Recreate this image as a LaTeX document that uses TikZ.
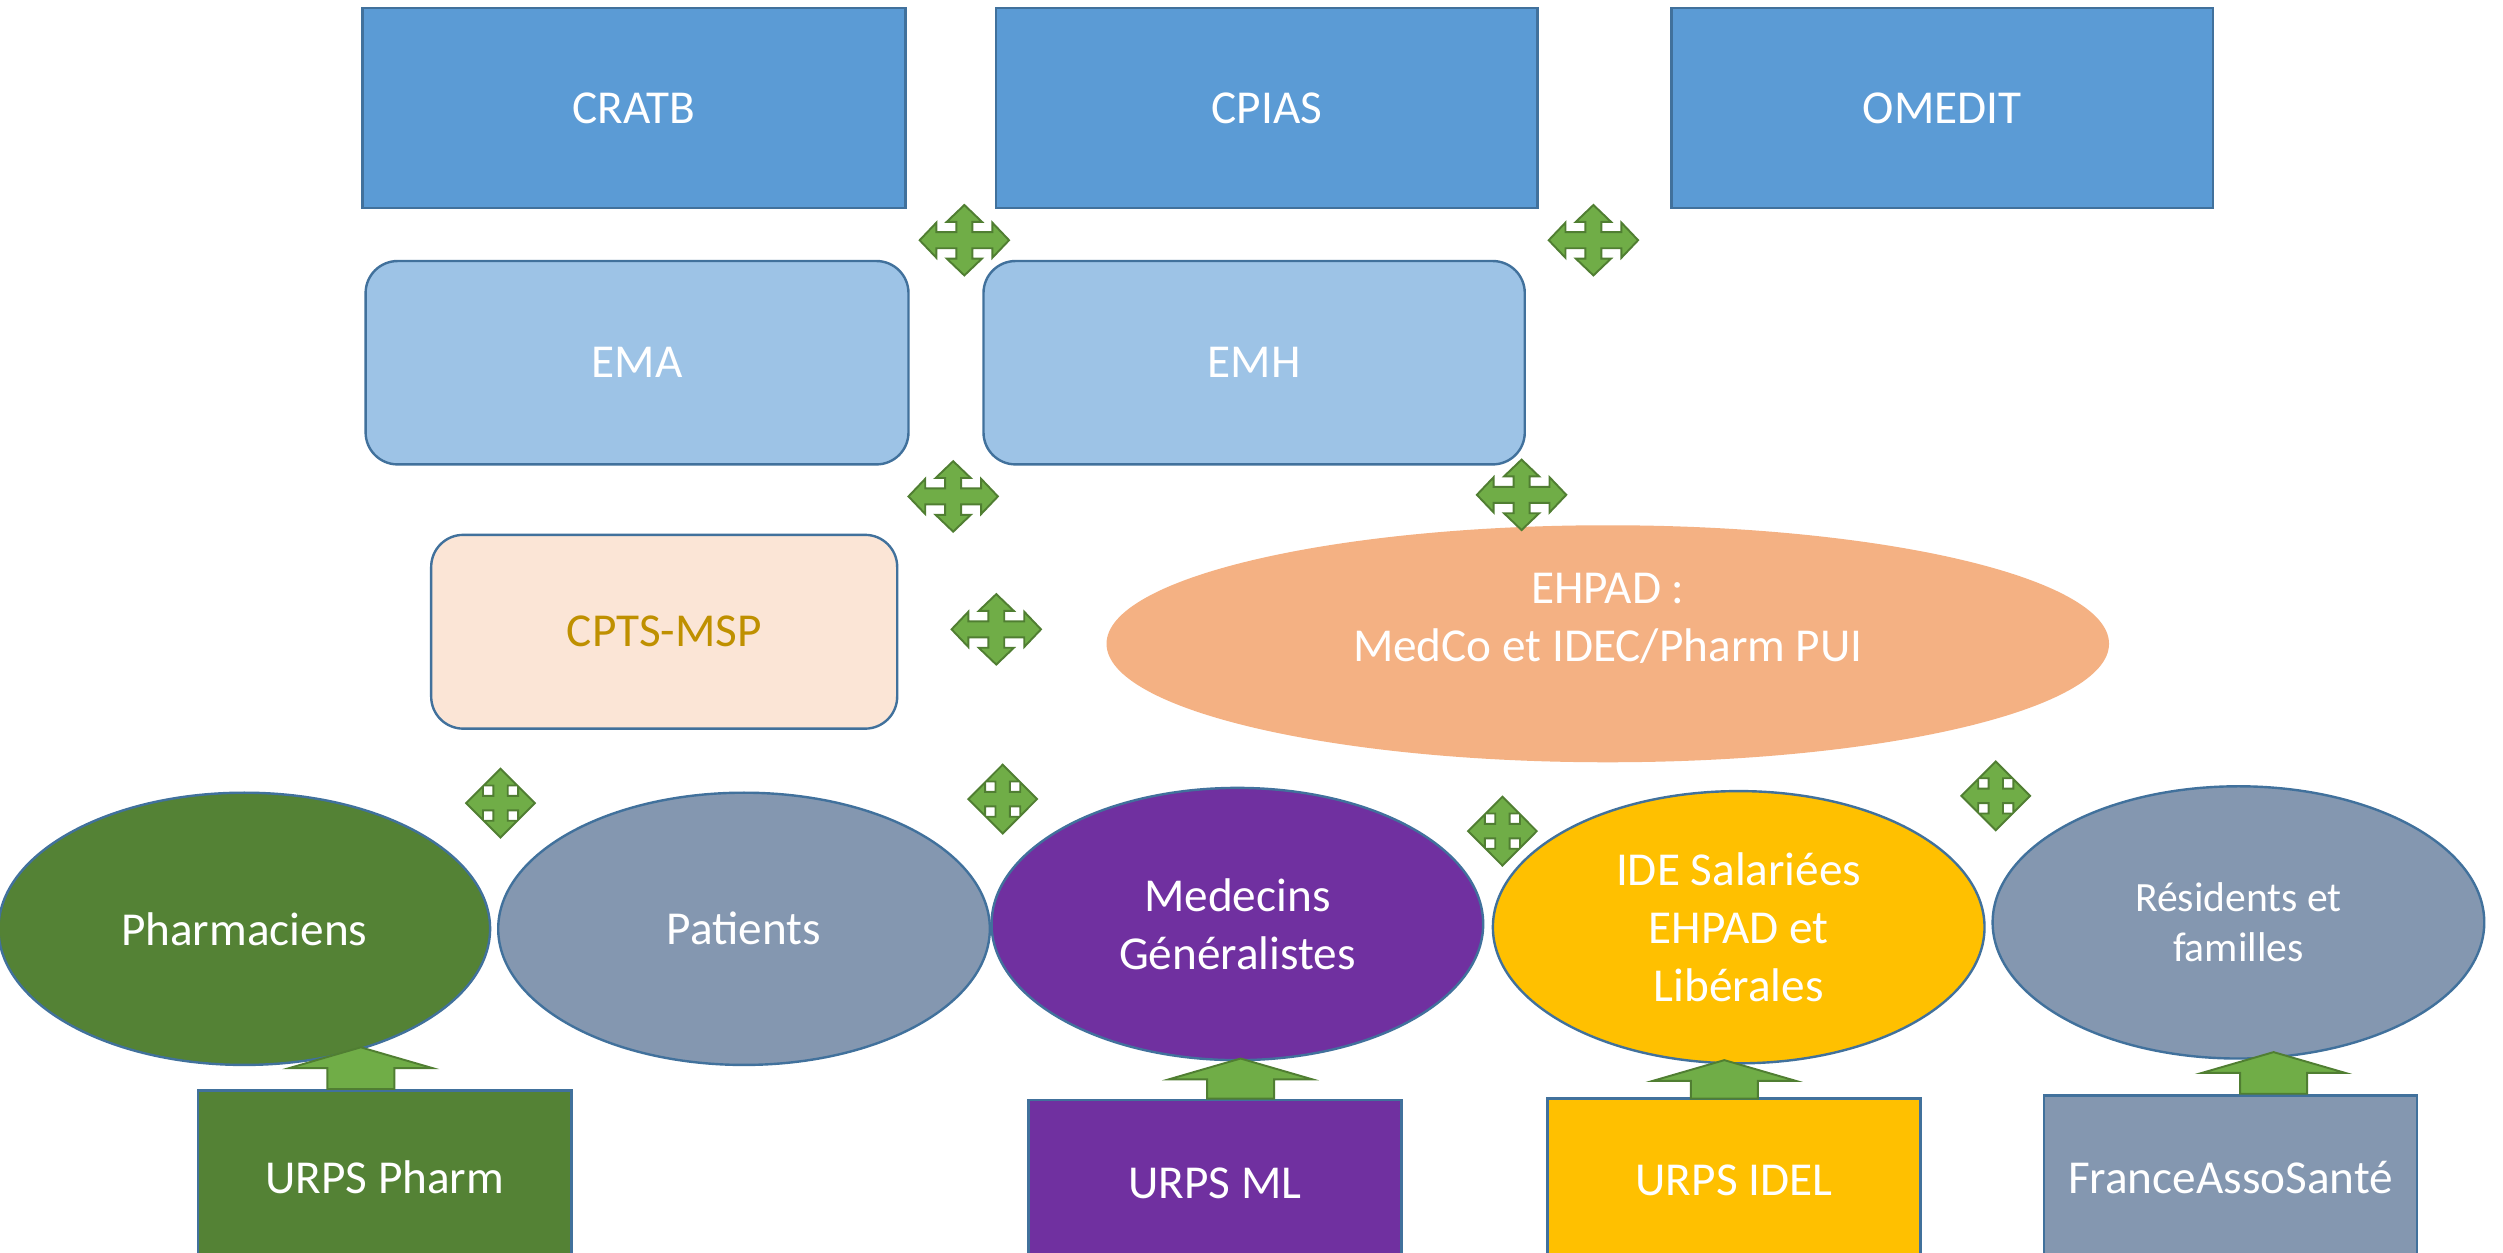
\documentclass[tikz,border=0pt]{standalone}
\usepackage{fontspec}
\setmainfont{Carlito}
\usetikzlibrary{shapes.geometric}
\definecolor{topblue}{HTML}{5B9BD5}
\definecolor{lightblue}{HTML}{9DC3E6}
\definecolor{edgeblue}{HTML}{41719C}
\definecolor{peach}{HTML}{FBE5D6}
\definecolor{goldtext}{HTML}{BF9000}
\definecolor{salmon}{HTML}{F4B183}
\definecolor{darkgreen}{HTML}{548235}
\definecolor{greyblue}{HTML}{8497B0}
\definecolor{violet2}{HTML}{7030A0}
\definecolor{amber}{HTML}{FFC000}
\definecolor{arrowgreen}{HTML}{70AD47}
\definecolor{arrowedge}{HTML}{507E32}
% quad arrow: x, y, Tx, Ty, L, Hw, s
\newcommand{\qarrowshape}[7]{%
\draw[arrowshape, shift={(#1,#2)}] (#3,0) -- ({#3-#5},#6) -- ({#3-#5},#7) -- (#7,#7) -- (#7,{#4-#5}) -- (#6,{#4-#5}) -- (0,#4) -- (-#6,{#4-#5}) -- (-#7,{#4-#5}) -- (-#7,#7) -- ({-#3+#5},#7) -- ({-#3+#5},#6) -- (-#3,0) -- ({-#3+#5},-#6) -- ({-#3+#5},-#7) -- (-#7,-#7) -- (-#7,{-#4+#5}) -- (-#6,{-#4+#5}) -- (0,-#4) -- (#6,{-#4+#5}) -- (#7,{-#4+#5}) -- (#7,-#7) -- ({#3-#5},-#7) -- ({#3-#5},-#6) -- cycle;}
\newcommand{\widequad}[2]{\qarrowshape{#1}{#2}{28}{22}{10.5}{11}{5}}
\newcommand{\diamondquad}[2]{\qarrowshape{#1}{#2}{21.5}{21.5}{10.5}{10.5}{4.5}}
% up block arrow: cx, tip y, bottom y
\newcommand{\upblock}[3]{%
\draw[arrowshape] (#1,#2) -- ({#1+45},{#2+13}) -- ({#1+21},{#2+13}) -- ({#1+21},#3) -- ({#1-21},#3) -- ({#1-21},{#2+13}) -- ({#1-45},{#2+13}) -- cycle;}
\tikzset{
  every node/.style={font=\fontsize{29.5bp}{36bp}\selectfont, text=white, align=center, inner sep=0pt, outer sep=0pt},
  sqbox/.style={rectangle, draw=edgeblue, line width=1.5bp},
  rbox/.style={rectangle, rounded corners=20bp, draw=edgeblue, line width=1.5bp},
  oval/.style={ellipse, draw=edgeblue, line width=1.5bp, minimum width=307bp, minimum height=170bp},
  arrowshape/.style={fill=arrowgreen, draw=arrowedge, line width=1.2bp, line join=miter},
}
\begin{document}
\begin{tikzpicture}[x=0.997bp,y=-1bp]
\clip (0,0) rectangle (1567.7,782.4);
\fill[white] (0,0) rectangle (1567.7,782.4);
% top row
\node[sqbox, fill=topblue, minimum width=339bp, minimum height=125bp] (cratb) at (397,67.5) {CRATB};
\node[sqbox, fill=topblue, minimum width=338bp, minimum height=125bp] (cpias) at (793.5,67.5) {CPIAS};
\node[sqbox, fill=topblue, minimum width=338bp, minimum height=125bp] (omedit) at (1216.5,67.5) {OMEDIT};
% second row
\node[rbox, fill=lightblue, minimum width=339bp, minimum height=127bp] (ema) at (399,226.5) {EMA};
\node[rbox, fill=lightblue, minimum width=338bp, minimum height=127bp] (emh) at (785.5,226.5) {EMH};
% third row
\node[rbox, fill=peach, text=goldtext, minimum width=291bp, minimum height=121bp] (cpts) at (416,394.5) {CPTS-MSP};
\node[ellipse, fill=salmon, minimum width=626bp, minimum height=148bp] (ehpad) at (1007,402) {};
\node (ehpadtext) at (1007,386) {EHPAD :\\MedCo et IDEC/Pharm PUI};
% ellipses row
\node[oval, fill=darkgreen] (pharma) at (153,580) {Pharmaciens};
\node[oval, fill=greyblue] (patients) at (466,580) {Patients};
\node[oval, fill=violet2] (medecins) at (775,577) {Medecins\\Généralistes};
\node[oval, fill=amber] (ide) at (1089,579) {IDE Salariées\\EHPAD et\\Libérales};
\node[oval, fill=greyblue, font=\fontsize{26bp}{31bp}\selectfont] (residents) at (1402,576) {Résidents et\\familles};
% bottom boxes
\node[sqbox, fill=darkgreen, minimum width=233bp, minimum height=108bp] (urpsph) at (241,735) {URPS Pharm};
\node[sqbox, fill=violet2, minimum width=233bp, minimum height=104bp] (urpsml) at (761,739) {URPS ML};
\node[sqbox, fill=amber, minimum width=233bp, minimum height=102bp] (urpsidel) at (1086,737) {URPS IDEL};
\node[sqbox, fill=greyblue, minimum width=233bp, minimum height=102bp] (fas) at (1397,735) {FranceAssoSanté};
% quad arrows
\widequad{604}{150}
\widequad{998}{150}
\widequad{597}{310}
\widequad{953}{309}
\widequad{624}{393}
\diamondquad{313.5}{501.5}
\diamondquad{628}{499}
\diamondquad{941}{519}
\diamondquad{1250}{497}
% up arrows
\upblock{226}{654}{680}
\upblock{777}{661}{686}
\upblock{1080}{662}{686}
\upblock{1424}{657}{683}
\end{tikzpicture}
\end{document}
